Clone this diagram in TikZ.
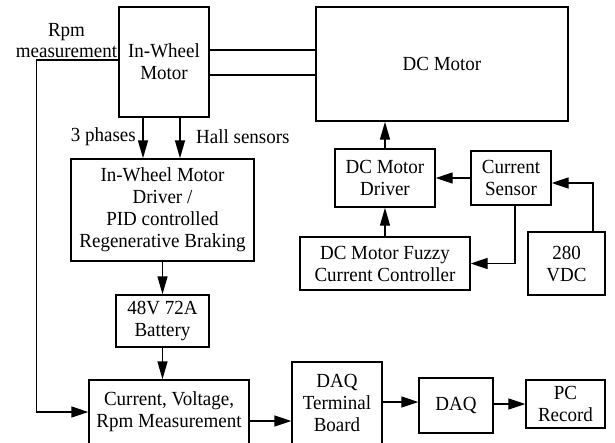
\documentclass[tikz,border=0pt]{standalone}
\usepackage{fontspec}
\setmainfont{Liberation Serif}[FakeStretch=0.95]
\usetikzlibrary{arrows.meta}
\begin{document}
\begin{tikzpicture}[x=1pt,y=-1pt,
  box/.style={draw=black, line width=1.4pt, inner sep=0pt, align=center, font=\fontsize{20}{22}\selectfont},
  lbl/.style={inner sep=0pt, align=center, font=\fontsize{20}{21}\selectfont},
  conn/.style={line width=1.4pt},
  arr/.style={line width=1.4pt, -{Triangle[length=17pt,width=11pt]}},
  varr/.style={line width=1.4pt, -{Triangle[length=18pt,width=10pt]}}]
\clip (0,0) rectangle (615,442);
\useasboundingbox (0,0) rectangle (615,442);
% boxes
\node[box, minimum width=90pt, minimum height=110pt] (iwm) at (164,62) {In-Wheel\\Motor};
\node[box, minimum width=252pt, minimum height=114pt] (dcm) at (442,64) {DC Motor};
\node[box, minimum width=183pt, minimum height=102pt] (drv) at (162.5,210) {In-Wheel Motor\\Driver /\\PID controlled\\Regenerative Braking};
\node[box, minimum width=93pt, minimum height=52pt] (bat) at (162.5,321) {48V 72A\\Battery};
\node[box, minimum width=160pt, minimum height=64pt] (meas) at (169,412) {Current, Voltage,\\Rpm Measurement};
\node[box, minimum width=90pt, minimum height=82pt] (dtb) at (337,403) {DAQ\\Terminal\\Board};
\node[box, minimum width=74pt, minimum height=55pt] (daq) at (456,405.5) {DAQ};
\node[box, minimum width=79pt, minimum height=48pt] (pc) at (565.5,404) {PC\\Record};
\node[box, minimum width=100pt, minimum height=58pt] (dcd) at (385,178) {DC Motor\\Driver};
\node[box, minimum width=80pt, minimum height=54pt] (cs) at (511,178) {Current\\Sensor};
\node[box, minimum width=170pt, minimum height=53pt] (fuz) at (385,263.5) {DC Motor Fuzzy\\Current Controller};
\node[box, minimum width=77pt, minimum height=63pt] (vdc) at (566.5,263.5) {280\\VDC};
% labels
\node[lbl] (rpm) at (66.5,41) {Rpm\\measurement};
\node[lbl, anchor=east] (ph) at (136,137) {3 phases};
\node[lbl, anchor=west] (hall) at (196,137) {Hall sensors};
% connectors
\draw[conn] ([yshift=12pt]iwm.east) -- ([yshift=12pt]iwm.east -| dcm.west);
\draw[conn] ([yshift=-13pt]iwm.east) -- ([yshift=-13pt]iwm.east -| dcm.west);
\draw[arr] ([yshift=2pt]iwm.west) -- ++(-82,0) |- (meas.west);
\draw[varr] ([xshift=-21pt]iwm.south) -- ([xshift=-21pt]iwm.south |- drv.north);
\draw[varr] ([xshift=16pt]iwm.south) -- ([xshift=16pt]iwm.south |- drv.north);
\draw[varr] (drv.south) -- (drv.south |- bat.north);
\draw[varr] (bat.south) -- (bat.south |- meas.north);
\draw[arr] ([yshift=-9pt]meas.east) -- ([yshift=-9pt]meas.east -| dtb.west);
\draw[arr] ([yshift=1pt]dtb.east) -- ([yshift=1pt]dtb.east -| daq.west);
\draw[arr] (daq.east |- pc.west) -- (pc.west);
\draw[varr] (dcd.north) -- (dcd.north |- dcm.south);
\draw[varr] (fuz.north) -- (fuz.north |- dcd.south);
\draw[arr] (cs.west) -- (cs.west -| dcd.east);
\draw[arr] ([xshift=4pt]cs.south) |- (fuz.east);
\draw[arr] ([xshift=26.5pt]vdc.north) |- ([yshift=-5pt]cs.east);
\end{tikzpicture}
\end{document}
